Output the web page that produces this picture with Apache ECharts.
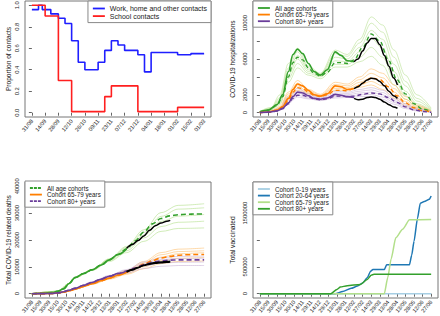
<!DOCTYPE html>
<html>
<head>
<meta charset="utf-8">
<script src="https://cdn.jsdelivr.net/npm/echarts@6.0.0/dist/echarts.min.js"></script>
<style>
  html, body { margin: 0; padding: 0; background: #fff; }
  #chart { width: 440px; height: 316px; }
</style>
</head>
<body>
<div id="chart"></div>
<script>
// tick labels
const contactTickLabels = ['31/08','14/09','28/09','12/10','26/10','09/11','23/11','07/12','21/12','04/01','18/01','01/02','15/02','01/03'];
const cohortTickLabels = ['31/08','15/09','30/09','15/10','30/10','14/11','29/11','14/12','29/12','13/01','28/01','12/02','27/02','14/03','29/03','13/04','28/04','13/05','28/05','12/06','27/06'];

// panel 1: contacts (days since 31/08, value holds until next day)
const workDays = [0, 7, 11, 20, 28, 35, 42, 49, 56, 70, 77, 84, 91, 98, 112, 119, 126, 154, 168, 182];
const workContacts = [0.96, 1.0, 0.96, 0.92, 0.88, 0.83, 0.67, 0.47, 0.40, 0.47, 0.58, 0.67, 0.63, 0.58, 0.54, 0.38, 0.56, 0.54, 0.55, 0.55];
const schoolDays = [0, 14, 28, 42, 77, 84, 112, 154, 182];
const schoolContacts = [1.0, 0.90, 0.30, 0.01, 0.15, 0.25, 0.01, 0.05, 0.05];

// panel 2: hospitalizations
const hospDays = [0, 15, 30, 40, 50, 58, 66, 75, 85, 95, 106, 118, 132, 142, 153, 165, 180, 195, 210, 225, 240, 255, 270, 285, 300];
const hospAllFit = [100, 300, 900, 2000, 4600, 6500, 7100, 6600, 5500, 4600, 4200, 4800, 6800, 6400, 5800, 5700];
const hospAllMean = [100, 280, 800, 1800, 4000, 5600, 6200, 5900, 5000, 4400, 4100, 4500, 5600, 5600, 5500, 5900, 7300, 8800, 8000, 5900, 3700, 2100, 1000, 400, 120];
const hospOrangeFit = [30, 80, 300, 700, 1600, 2600, 3200, 3000, 2500, 2000, 1850, 2100, 3000, 2900, 2600, 2700];
const hospOrangeMean = [30, 70, 250, 600, 1400, 2300, 2800, 2700, 2300, 1950, 1800, 2000, 2500, 2500, 2450, 2700, 3300, 3900, 3700, 2900, 1900, 1100, 550, 220, 80];
const hospPurpleFit = [20, 60, 200, 500, 1100, 1800, 2300, 2200, 1900, 1600, 1500, 1650, 2050, 1950, 1800, 1700];
const hospPurpleMean = [20, 50, 180, 450, 1000, 1600, 1950, 1950, 1750, 1550, 1450, 1550, 1850, 1850, 1800, 1850, 2050, 2200, 2100, 1700, 1150, 650, 320, 130, 40];
const hospObsDays = [165, 172, 180, 188, 195, 202, 210, 218, 226, 234, 241];
const hospAllObs = [5700, 6000, 6900, 7800, 8300, 8300, 7600, 6400, 5200, 3900, 3100];
const hospOrangeObs = [2700, 2900, 3300, 3650, 3850, 3800, 3500, 3000, 2400, 1900, 1600];
const hospPurpleObs = [1600, 1450, 1500, 1700, 1750, 1700, 1500, 1200, 900, 650, 500];
const hospEnsDays = [0, 20, 35, 50, 66, 85, 106, 132, 153, 175, 195, 215, 235, 255, 275, 300];
const hospAllEns = [
  [150, 600, 2000, 5500, 7200, 5200, 4400, 7000, 6500, 8200, 10700, 9800, 7000, 4200, 2000, 500],
  [130, 500, 1700, 5000, 6800, 5000, 4300, 6600, 6300, 7800, 10000, 9000, 6200, 3500, 1600, 400],
  [120, 450, 1500, 4600, 6400, 4800, 4200, 6200, 6000, 7300, 9200, 8200, 5400, 3000, 1300, 300],
  [110, 400, 1300, 4200, 6000, 4600, 4100, 5800, 5700, 6800, 8300, 7200, 4600, 2400, 1000, 250],
  [100, 350, 1100, 3800, 5500, 4400, 4000, 5400, 5400, 6200, 7300, 6200, 3800, 1900, 800, 200],
  [90, 300, 900, 3400, 5000, 4200, 3800, 5100, 5100, 5700, 6300, 5300, 3100, 1500, 600, 150]
];
const hospOrangeEns = [
  [40, 200, 700, 2300, 3600, 2600, 2050, 3400, 3200, 4000, 4900, 4400, 3100, 1800, 850, 200],
  [35, 170, 600, 2100, 3300, 2450, 1950, 3150, 3000, 3700, 4400, 3900, 2700, 1500, 700, 160],
  [30, 150, 520, 1900, 3000, 2300, 1900, 2900, 2800, 3400, 3900, 3400, 2300, 1250, 560, 130],
  [28, 130, 450, 1700, 2750, 2200, 1850, 2700, 2650, 3100, 3500, 3000, 1950, 1000, 450, 100],
  [25, 110, 380, 1500, 2500, 2100, 1800, 2500, 2500, 2850, 3100, 2600, 1650, 800, 350, 80]
];
const hospPurpleEns = [
  [30, 150, 500, 1800, 2700, 2100, 1650, 2400, 2300, 2600, 2800, 2500, 1800, 1000, 450, 100],
  [25, 130, 430, 1600, 2450, 1950, 1600, 2200, 2150, 2400, 2550, 2250, 1550, 850, 380, 80],
  [22, 110, 370, 1400, 2200, 1800, 1500, 2000, 2000, 2200, 2300, 2000, 1350, 700, 300, 60],
  [20, 90, 310, 1200, 1950, 1650, 1400, 1800, 1850, 2000, 2050, 1750, 1150, 580, 240, 50],
  [18, 80, 270, 1050, 1750, 1550, 1350, 1650, 1700, 1800, 1800, 1500, 950, 460, 190, 40]
];

// panel 3: cumulative deaths
const deathDays = [0, 20, 35, 45, 55, 65, 75, 90, 105, 120, 135, 150, 165, 180, 195, 210, 225, 240, 255, 270, 285, 300];
const deathAllFit = [0, 150, 450, 900, 1800, 3800, 6000, 7500, 8900, 10600, 12600, 14600, 16700];
const deathAllMean = [0, 150, 450, 900, 1800, 3800, 6000, 7500, 8900, 10600, 12600, 14600, 16700, 19700, 23000, 26000, 28000, 29000, 29400, 29600, 29700, 29700];
const deathOrangeFit = [0, 30, 100, 250, 600, 1100, 1700, 2700, 3700, 4800, 5800, 6900, 8000];
const deathOrangeMean = [0, 30, 100, 250, 600, 1100, 1700, 2700, 3700, 4800, 5800, 6900, 8000, 9500, 11000, 12300, 13300, 13900, 14300, 14500, 14600, 14600];
const deathPurpleFit = [0, 30, 120, 300, 700, 1300, 2000, 3100, 4200, 5400, 6500, 7500, 8400];
const deathPurpleMean = [0, 30, 120, 300, 700, 1300, 2000, 3100, 4200, 5400, 6500, 7500, 8400, 9600, 10800, 11700, 12200, 12500, 12600, 12600, 12600, 12600];
const deathObsDays = [165, 175, 185, 195, 205, 215, 225, 235, 241];
const deathAllObs = [16900, 18300, 19800, 21500, 23600, 25300, 26300, 27000, 27300];
const deathOrangeObs = [8000, 8800, 9700, 10600, 11200, 11600, 11800, 12000, 12100];
const deathPurpleObs = [8300, 9000, 9800, 10500, 11000, 11300, 11500, 11700, 11800];
const deathEnsDays = [0, 45, 65, 75, 105, 135, 165, 195, 225, 255, 300];
const deathAllEns = [
  [0, 900, 3800, 6000, 9000, 13000, 17600, 23800, 30200, 32900, 33500],
  [0, 900, 3800, 6000, 8900, 12800, 17200, 22800, 28800, 31500, 32000],
  [0, 900, 3800, 6000, 8900, 12600, 16700, 21800, 26900, 28900, 29500],
  [0, 900, 3800, 6000, 8800, 12300, 16000, 20800, 25000, 26600, 27000],
  [0, 900, 3800, 6000, 8700, 12000, 15300, 19500, 23200, 24300, 24500]
];
const deathOrangeEns = [
  [0, 250, 1100, 1700, 3900, 6200, 8700, 12000, 15300, 16600, 17000],
  [0, 250, 1100, 1700, 3800, 6000, 8400, 11500, 14500, 15700, 16000],
  [0, 250, 1100, 1700, 3700, 5800, 8000, 10900, 13600, 14900, 15300],
  [0, 250, 1100, 1700, 3600, 5600, 7600, 10000, 12300, 13200, 13500],
  [0, 250, 1100, 1700, 3500, 5400, 7200, 9300, 11200, 12000, 12200]
];
const deathPurpleEns = [
  [0, 300, 1300, 2000, 4400, 6800, 9000, 11800, 13400, 13900, 14000],
  [0, 300, 1300, 2000, 4300, 6600, 8700, 11200, 12700, 13100, 13200],
  [0, 300, 1300, 2000, 4100, 6300, 8200, 10300, 11400, 11700, 11800],
  [0, 300, 1300, 2000, 3900, 6000, 7700, 9400, 10200, 10500, 10500]
];

// panel 4: total vaccinated
const vacc019Days = [0, 300];
const vacc019 = [0, 0];
const vacc2064Days = [0, 132, 145, 160, 171, 180, 188, 194, 198, 218, 222, 262, 266, 270, 276, 281, 288, 297, 300];
const vacc2064 = [0, 0, 40000, 100000, 142000, 200000, 296000, 420000, 450000, 450000, 537000, 537000, 720000, 975000, 1400000, 1685000, 1716000, 1760000, 1820000];
const vacc6579Days = [0, 218, 224, 230, 238, 250, 262, 300];
const vacc6579 = [0, 0, 300000, 650000, 1040000, 1200000, 1377000, 1380000];
const vacc80Days = [0, 124, 135, 141, 153, 176, 188, 195, 200, 300];
const vacc80 = [0, 0, 80000, 123000, 150000, 173000, 265000, 345000, 360000, 360000];

const FONT = 'Liberation Sans, Arial, sans-serif';
const GREEN = '#33a02c', GREEN_L = '#b2df8a', ORANGE = '#ff7f00', ORANGE_L = '#fdbf6f';
const PURPLE = '#6a3d9a', PURPLE_L = '#cab2d6', BLUE = '#1f78b4', BLUE_L = '#a6cee3';

function pts(days, vals) {
  return vals.map((v, i) => [days[i], v]);
}

function line(name, g, data, color, o) {
  o = o || {};
  return {
    name: name, type: 'line', xAxisIndex: g, yAxisIndex: g, data: data,
    symbol: 'none', silent: true, animation: false,
    smooth: o.step ? false : (o.smooth === undefined ? 0.35 : o.smooth),
    smoothMonotone: 'x', step: o.step || false,
    lineStyle: { color: color, width: o.width || 1.5, type: o.type || 'solid', opacity: o.opacity == null ? 1 : o.opacity },
    itemStyle: { color: color },
    z: o.z || 2
  };
}

function xAx(g, step, labels) {
  const span = step * (labels.length - 1);
  const ticks = labels.map((_, i) => i * step);
  return {
    gridIndex: g, type: 'value', min: -0.04 * span, max: 1.04 * span,
    axisLine: { show: false }, splitLine: { show: false },
    axisTick: { show: true, length: 3, customValues: ticks, lineStyle: { color: '#666', width: 1 } },
    axisLabel: { customValues: ticks, rotate: 50, fontSize: 5.6, margin: 3, color: '#222', fontFamily: FONT,
      formatter: v => labels[Math.round(v / step)] }
  };
}

function yAx(g, hi, ticks, labelVals, fmt, name, gap) {
  return {
    gridIndex: g, type: 'value', min: -0.04 * hi, max: 1.04 * hi,
    axisLine: { show: false }, splitLine: { show: false },
    axisTick: { show: true, length: 3, customValues: ticks, lineStyle: { color: '#666', width: 1 } },
    axisLabel: { customValues: labelVals, rotate: 90, fontSize: 5.8, margin: 5, color: '#222', fontFamily: FONT, formatter: fmt },
    name: name, nameLocation: 'middle', nameGap: gap,
    nameTextStyle: { fontSize: 6.6, color: '#222', fontFamily: FONT }
  };
}

function legend(pos, items, fontSize) {
  return Object.assign({
    orient: 'vertical', selectedMode: false, itemWidth: 12, itemHeight: 7, itemGap: 0.6,
    padding: [4, 4, 3, 4], borderColor: '#888', borderWidth: 1, borderRadius: 0, backgroundColor: '#fff',
    textStyle: { fontSize: fontSize, color: '#222', fontFamily: FONT },
    data: items.map(it => ({
      name: it[0], itemStyle: { color: it[1], opacity: 0 },
      lineStyle: { color: it[1], width: 1.8, type: it[2] || 'solid', opacity: 1 }
    }))
  }, pos);
}

const grids = [
  { left: 25, top: 1, width: 186, height: 116 },
  { left: 253, top: 1, width: 185, height: 116 },
  { left: 25, top: 182, width: 186, height: 116 },
  { left: 253, top: 182, width: 185, height: 116 }
].map(g => Object.assign(g, { show: true, borderColor: '#777', borderWidth: 1, backgroundColor: 'transparent', outerBoundsMode: 'none', containLabel: false }));

const num = v => String(v);
const series = [];

// panel 1
series.push(line('Work, home and other contacts', 0, pts(workDays, workContacts), '#1f1fff', { step: 'end', width: 1.6 }));
series.push(line('School contacts', 0, pts(schoolDays, schoolContacts), '#ff1f1f', { step: 'end', width: 1.6 }));

// panel 2
hospAllEns.forEach((v, i) => series.push(line('hosp all ens ' + i, 1, pts(hospEnsDays, v), GREEN_L, { width: 1, opacity: 0.55, z: 1 })));
hospOrangeEns.forEach((v, i) => series.push(line('hosp 65-79 ens ' + i, 1, pts(hospEnsDays, v), ORANGE_L, { width: 1, opacity: 0.6, z: 1 })));
hospPurpleEns.forEach((v, i) => series.push(line('hosp 80+ ens ' + i, 1, pts(hospEnsDays, v), PURPLE_L, { width: 1, opacity: 0.6, z: 1 })));
series.push(line('hosp all mean', 1, pts(hospDays, hospAllMean), GREEN, { type: [4, 3], width: 1.4 }));
series.push(line('hosp 65-79 mean', 1, pts(hospDays, hospOrangeMean), ORANGE, { type: [4, 3], width: 1.4 }));
series.push(line('hosp 80+ mean', 1, pts(hospDays, hospPurpleMean), PURPLE, { type: [4, 3], width: 1.4 }));
series.push(line('All age cohorts', 1, pts(hospDays, hospAllFit), GREEN, { width: 1.6, z: 3 }));
series.push(line('Cohort 65-79 years', 1, pts(hospDays, hospOrangeFit), ORANGE, { width: 1.6, z: 3 }));
series.push(line('Cohort 80+ years', 1, pts(hospDays, hospPurpleFit), PURPLE, { width: 1.6, z: 3 }));
series.push(line('hosp all obs', 1, pts(hospObsDays, hospAllObs), '#000', { width: 1.5, z: 4 }));
series.push(line('hosp 65-79 obs', 1, pts(hospObsDays, hospOrangeObs), '#000', { width: 1.5, z: 4 }));
series.push(line('hosp 80+ obs', 1, pts(hospObsDays, hospPurpleObs), '#000', { width: 1.5, z: 4 }));

// panel 3
deathAllEns.forEach((v, i) => series.push(line('death all ens ' + i, 2, pts(deathEnsDays, v), GREEN_L, { width: 1, opacity: 0.6, z: 1 })));
deathOrangeEns.forEach((v, i) => series.push(line('death 65-79 ens ' + i, 2, pts(deathEnsDays, v), ORANGE_L, { width: 1, opacity: 0.6, z: 1 })));
deathPurpleEns.forEach((v, i) => series.push(line('death 80+ ens ' + i, 2, pts(deathEnsDays, v), PURPLE_L, { width: 1, opacity: 0.6, z: 1 })));
series.push(line('death all fit', 2, pts(deathDays, deathAllFit), GREEN, { width: 1.6, z: 3 }));
series.push(line('death 65-79 fit', 2, pts(deathDays, deathOrangeFit), ORANGE, { width: 1.6, z: 3 }));
series.push(line('death 80+ fit', 2, pts(deathDays, deathPurpleFit), PURPLE, { width: 1.6, z: 3 }));
series.push(line('death all mean', 2, pts(deathDays, deathAllMean), GREEN, { type: [5, 3], width: 1.6, z: 3 }));
series.push(line('death 65-79 mean', 2, pts(deathDays, deathOrangeMean), ORANGE, { type: [5, 3], width: 1.6, z: 3 }));
series.push(line('death 80+ mean', 2, pts(deathDays, deathPurpleMean), PURPLE, { type: [5, 3], width: 1.6, z: 3 }));
series.push(line('death all obs', 2, pts(deathObsDays, deathAllObs), '#000', { width: 1.5, z: 4 }));
series.push(line('death 65-79 obs', 2, pts(deathObsDays, deathOrangeObs), '#000', { width: 1.5, z: 4 }));
series.push(line('death 80+ obs', 2, pts(deathObsDays, deathPurpleObs), '#000', { width: 1.5, z: 4 }));

// panel 4
series.push(line('Cohort 0-19 years', 3, pts(vacc019Days, vacc019), BLUE_L, { smooth: false, width: 1.5 }));
series.push(line('Cohort 20-64 years', 3, pts(vacc2064Days, vacc2064), BLUE, { smooth: 0.2, width: 1.5 }));
series.push(line('Cohort 65-79 years', 3, pts(vacc6579Days, vacc6579), GREEN_L, { smooth: 0.2, width: 1.5 }));
series.push(line('Cohort 80+ years', 3, pts(vacc80Days, vacc80), GREEN, { smooth: 0.2, width: 1.5 }));

const option = {
  backgroundColor: '#fff',
  animation: false,
  grid: grids,
  xAxis: [xAx(0, 14, contactTickLabels), xAx(1, 15, cohortTickLabels), xAx(2, 15, cohortTickLabels), xAx(3, 15, cohortTickLabels)],
  yAxis: [
    yAx(0, 1, [0, 0.2, 0.4, 0.6, 0.8, 1], [0, 0.2, 0.4, 0.6, 0.8, 1], v => v.toFixed(1), 'Proportion of contacts', 13),
    yAx(1, 12000, [0, 2000, 4000, 6000, 8000, 10000, 12000], [0, 2000, 6000, 10000], num, 'COVID-19 hospitalizations', 17),
    yAx(2, 40000, [0, 10000, 20000, 30000, 40000], [0, 10000, 20000, 30000, 40000], num, 'Total COVID-19 related deaths', 13),
    yAx(3, 2000000, [0, 500000, 1000000, 1500000, 2000000], [0, 500000, 1500000], num, 'Total vaccinated', 17)
  ],
  legend: [
    legend({ right: 229, top: 1 }, [['Work, home and other contacts', '#1f1fff'], ['School contacts', '#ff1f1f']], 7),
    legend({ left: 253, top: 1 }, [['All age cohorts', GREEN], ['Cohort 65-79 years', ORANGE], ['Cohort 80+ years', PURPLE]], 6.3),
    legend({ left: 25, top: 181 }, [['All age cohorts', GREEN, [3, 1]], ['Cohort 65-79 years', ORANGE], ['Cohort 80+ years', PURPLE, [3, 1]]], 6.3),
    legend({ left: 253, top: 182 }, [['Cohort 0-19 years', BLUE_L], ['Cohort 20-64 years', BLUE], ['Cohort 65-79 years', GREEN_L], ['Cohort 80+ years', GREEN]], 6.3)
  ],
  series: series
};

const chart = echarts.init(document.getElementById('chart'), null, { renderer: 'svg' });
chart.setOption(option);
</script>
</body>
</html>
